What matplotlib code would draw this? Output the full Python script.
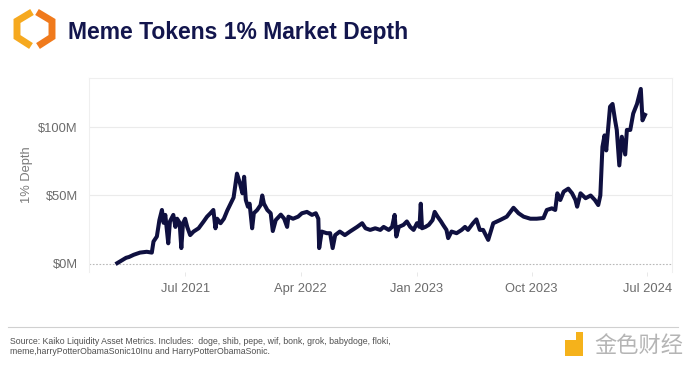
import matplotlib
matplotlib.use("Agg")
import matplotlib.pyplot as plt
import matplotlib.dates as mdates
from matplotlib.lines import Line2D
import numpy as np
import pandas as pd

plt.rcParams['font.family'] = ['Liberation Sans', 'DejaVu Sans']

# ---------------- data ----------------
dates = [
    "2021-01-21", "2021-02-11", "2021-02-18", "2021-03-01", "2021-03-16", "2021-04-01",
    "2021-04-13", "2021-04-17", "2021-04-25", "2021-05-01", "2021-05-07", "2021-05-11",
    "2021-05-15", "2021-05-22", "2021-05-26", "2021-06-03", "2021-06-08", "2021-06-12",
    "2021-06-18", "2021-06-22", "2021-06-26", "2021-07-01", "2021-07-06", "2021-07-13",
    "2021-07-21", "2021-08-02", "2021-08-14", "2021-08-22", "2021-08-30", "2021-09-06",
    "2021-09-11", "2021-09-15", "2021-09-23", "2021-10-01", "2021-10-09", "2021-10-17",
    "2021-10-24", "2021-11-01", "2021-11-08", "2021-11-14", "2021-11-18", "2021-11-22",
    "2021-11-27", "2021-12-01", "2021-12-07", "2021-12-11", "2021-12-19", "2021-12-27",
    "2021-12-31", "2022-01-04", "2022-01-12", "2022-01-20", "2022-01-25", "2022-02-01",
    "2022-02-13", "2022-02-21", "2022-02-28", "2022-03-03", "2022-03-14", "2022-03-26",
    "2022-04-04", "2022-04-16", "2022-04-28", "2022-05-07", "2022-05-13", "2022-05-15",
    "2022-05-21", "2022-06-02", "2022-06-10", "2022-06-16", "2022-06-22", "2022-07-03",
    "2022-07-15", "2022-07-27", "2022-08-13", "2022-08-25", "2022-09-02", "2022-09-13",
    "2022-09-25", "2022-10-07", "2022-10-15", "2022-10-27", "2022-11-04", "2022-11-10",
    "2022-11-14", "2022-11-20", "2022-12-01", "2022-12-09", "2022-12-17", "2022-12-25",
    "2023-01-02", "2023-01-08", "2023-01-11", "2023-01-14", "2023-01-22", "2023-01-30",
    "2023-02-08", "2023-02-13", "2023-02-20", "2023-02-28", "2023-03-05", "2023-03-13",
    "2023-03-17", "2023-03-25", "2023-04-06", "2023-04-18", "2023-04-26", "2023-05-03",
    "2023-05-15", "2023-05-23", "2023-05-31", "2023-06-08", "2023-06-20", "2023-07-02",
    "2023-07-18", "2023-08-03", "2023-08-19", "2023-08-31", "2023-09-12", "2023-09-28",
    "2023-10-13", "2023-10-29", "2023-11-06", "2023-11-18", "2023-11-26", "2023-12-01",
    "2023-12-08", "2023-12-16", "2023-12-27", "2024-01-05", "2024-01-13", "2024-01-17",
    "2024-01-25", "2024-02-06", "2024-02-18", "2024-02-28", "2024-03-07", "2024-03-12",
    "2024-03-17", "2024-03-22", "2024-03-26", "2024-04-04", "2024-04-10", "2024-04-16",
    "2024-04-20", "2024-04-26", "2024-05-02", "2024-05-10", "2024-05-14", "2024-05-22",
    "2024-05-29", "2024-06-07", "2024-06-11", "2024-06-16", "2024-06-20", "2024-06-26",
]
depth_musd = [
    0.5, 4.4, 5.0, 6.6, 8.2, 8.8,
    8.2, 16.3, 20.0, 32.0, 39.4, 30.0,
    35.8, 15.0, 31.0, 35.8, 27.0, 33.0,
    30.0, 11.5, 29.7, 33.0, 27.0, 21.0,
    23.6, 26.0, 31.0, 34.5, 37.0, 39.4,
    26.0, 33.0, 29.7, 33.0, 39.0, 44.0,
    48.5, 66.0, 59.0, 51.6, 63.7, 46.7,
    41.8, 44.0, 26.0, 37.0, 39.4, 43.0,
    50.0, 44.0, 39.4, 37.0, 24.0, 32.0,
    36.0, 33.0, 27.0, 34.5, 33.0, 34.5,
    37.0, 38.0, 35.8, 37.0, 33.0, 11.5,
    23.6, 22.4, 22.4, 11.5, 21.0, 23.6,
    21.0, 23.6, 27.0, 29.7, 26.0, 24.8,
    26.0, 24.8, 27.0, 24.8, 27.0, 35.8,
    20.0, 27.0, 28.5, 31.0, 27.0, 24.8,
    29.7, 27.0, 44.0, 26.0, 27.0, 28.5,
    32.0, 38.0, 34.5, 31.0, 28.5, 24.8,
    18.8, 23.6, 22.4, 24.8, 27.0, 24.8,
    29.7, 32.5, 24.8, 24.8, 17.5, 29.7,
    32.0, 34.5, 41.0, 37.0, 34.5, 33.0,
    33.0, 33.5, 39.4, 40.6, 39.4, 51.6,
    46.7, 52.8, 55.0, 51.6, 46.7, 41.8,
    51.6, 48.0, 50.0, 46.7, 43.0, 50.0,
    85.6, 94.0, 83.0, 115.0, 117.0, 105.0,
    98.0, 72.0, 93.0, 80.0, 98.0, 98.0,
    110.0, 117.0, 122.0, 128.0, 105.0, 109.0,
]
ytick_values = [0, 50, 100]
ytick_labels = ["$0M", "$50M", "$100M"]
xtick_dates = ["2021-07-01", "2022-04-01", "2023-01-01", "2023-10-01", "2024-07-01"]
xtick_labels = ["Jul 2021", "Apr 2022", "Jan 2023", "Oct 2023", "Jul 2024"]

title = "Meme Tokens 1% Market Depth"
ylabel = "1% Depth"
source_lines = [
    "Source: Kaiko Liquidity Asset Metrics. Includes:  doge, shib, pepe, wif, bonk, grok, babydoge, floki,",
    "meme,harryPotterObamaSonic10Inu and HarryPotterObamaSonic.",
]

# ---------------- figure ----------------
W, H = 700, 368
fig = plt.figure(figsize=(W / 100, H / 100), dpi=100)
fig.patch.set_facecolor("white")

def fx(px):
    return px / W

def fy(py):
    return 1 - py / H

ax = fig.add_axes([fx(89), fy(272), fx(672) - fx(89), fy(78) - fy(272)])
x = pd.to_datetime(dates)
ax.plot(x, depth_musd, color="#0f1040", lw=2.9, solid_joinstyle="round", zorder=3)

ax.set_xlim(pd.Timestamp("2020-11-15"), pd.Timestamp("2024-08-29"))
ax.set_ylim(-6, 136)

ax.set_yticks(ytick_values)
ax.set_yticklabels(ytick_labels)
ax.set_xticks(pd.to_datetime(xtick_dates))
ax.set_xticklabels(xtick_labels)

ax.tick_params(axis="y", length=0, pad=8, labelsize=9.3, labelcolor="#6b6b6b")
ax.tick_params(axis="x", length=3, width=0.6, color="#e4e4e4", pad=5, labelsize=9.3,
               labelcolor="#6b6b6b")

for s in ["left", "right", "top"]:
    ax.spines[s].set_color("#efefef")
    ax.spines[s].set_linewidth(0.8)
ax.spines["bottom"].set_visible(False)

for v in [50, 100]:
    ax.axhline(v, color="#ebebeb", lw=0.8, zorder=1)
ax.axhline(0, color="#b8b8b8", lw=0.8, ls=(0, (1.5, 1.5)), zorder=1)

fig.text(fx(27), fy(175), ylabel, rotation=90, ha="center", va="center",
         fontsize=9.3, color="#7a7a7a")

# title
fig.text(fx(68), fy(32), title, ha="left", va="center", fontsize=16.5,
         fontweight="bold", color="#13164d")

# logo (two chevron halves)
left_pts = [(32, 12), (17, 21), (17, 37), (31, 46)]
right_pts = [(37, 12), (52, 21), (52, 37), (38, 46)]
fig.add_artist(Line2D([fx(p[0]) for p in left_pts], [fy(p[1]) for p in left_pts],
                      transform=fig.transFigure, color="#f6a91f", lw=5.0,
                      solid_joinstyle="miter", solid_capstyle="butt"))
fig.add_artist(Line2D([fx(p[0]) for p in right_pts], [fy(p[1]) for p in right_pts],
                      transform=fig.transFigure, color="#f07a1c", lw=5.0,
                      solid_joinstyle="miter", solid_capstyle="butt"))

# footer
fig.add_artist(Line2D([fx(8), fx(678)], [fy(327), fy(327)], transform=fig.transFigure,
                      color="#d0d0d0", lw=0.8))
fig.text(fx(10), fy(341), source_lines[0], ha="left", va="center", fontsize=6.3,
         color="#505050")
fig.text(fx(10), fy(352), source_lines[1], ha="left", va="center", fontsize=6.3,
         color="#505050")

# watermark
fig.add_artist(plt.Rectangle((fx(565), fy(356)), fx(18), fy(340) - fy(356),
                             transform=fig.transFigure, color="#f5b21b", lw=0))
fig.add_artist(plt.Rectangle((fx(576), fy(340)), fx(7), fy(332) - fy(340),
                             transform=fig.transFigure, color="#f5b21b", lw=0))
fig.text(fx(594), fy(345), "金色财经", ha="left", va="center", fontsize=16,
         color="#b5b5b5", family=["Noto Sans CJK SC", "DejaVu Sans"])

fig.savefig("out.png", dpi=100, facecolor="white")
